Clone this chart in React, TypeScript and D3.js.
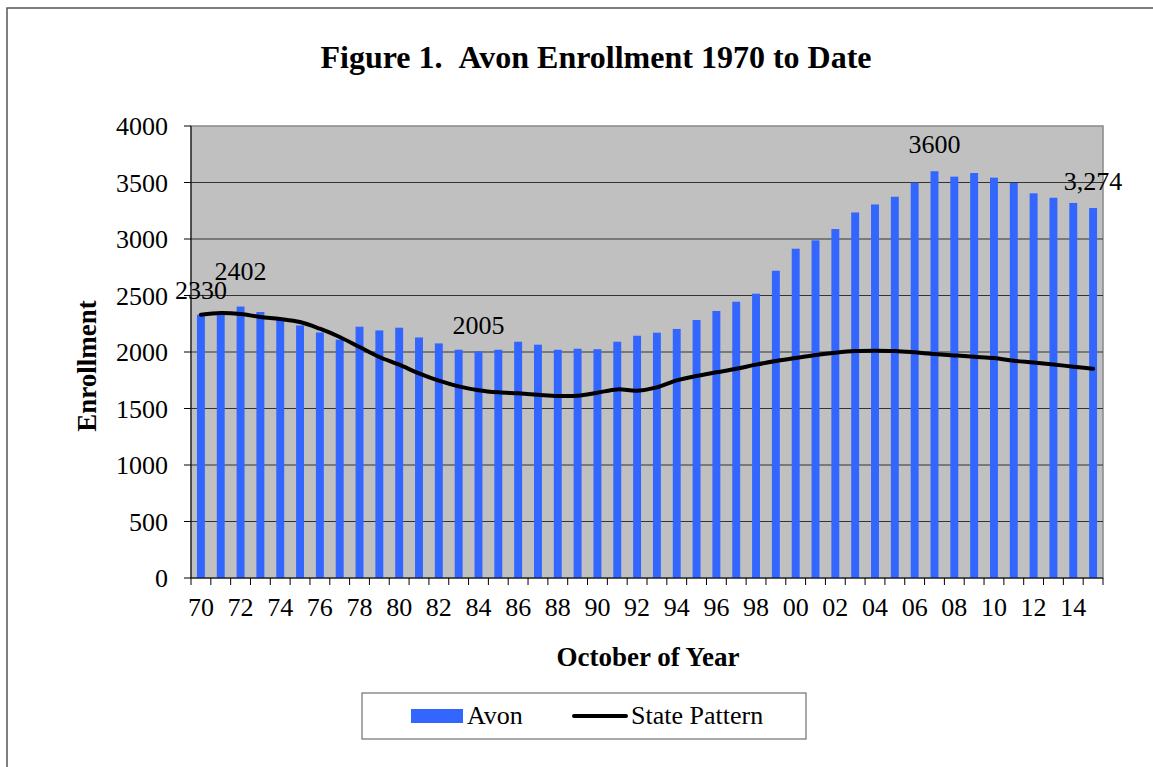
import React from 'react';
import * as d3 from 'd3';

const years = d3.range(1970, 2016);
const avon = [
  2330, 2345, 2402, 2354, 2290, 2235, 2173, 2110, 2224, 2191,
  2215, 2129, 2076, 2020, 2005, 2020, 2091, 2065, 2020, 2029,
  2025, 2091, 2144, 2171, 2204, 2283, 2363, 2445, 2516, 2719,
  2914, 2988, 3088, 3235, 3306, 3374, 3498, 3600, 3552, 3584,
  3543, 3496, 3404, 3365, 3319, 3274,
];
const statePattern = [
  2330, 2345, 2336, 2310, 2292, 2265, 2206, 2133, 2044, 1956,
  1888, 1811, 1746, 1696, 1662, 1643, 1634, 1622, 1611, 1613,
  1640, 1669, 1658, 1687, 1749, 1788, 1820, 1852, 1888, 1920,
  1947, 1973, 1994, 2009, 2012, 2009, 1997, 1982, 1970, 1958,
  1947, 1923, 1908, 1890, 1870, 1852,
];
const yTicks = [0, 500, 1000, 1500, 2000, 2500, 3000, 3500, 4000];
// labelled points: year, text, lift above bar top
const callouts = [
  { year: 1970, text: '2330', lift: 16 },
  { year: 1972, text: '2402', lift: 27 },
  { year: 1984, text: '2005', lift: 17 },
  { year: 2007, text: '3600', lift: 18 },
  { year: 2015, text: '3,274', lift: 18 },
];

const W = 1153;
const H = 767;
const plot = { left: 191, right: 1103, top: 126, bottom: 578 };
const font = '"Liberation Serif", "Times New Roman", serif';

export default function App() {
  const x = d3.scaleBand<number>()
    .domain(years)
    .range([plot.left, plot.right])
    .paddingInner(0.6)
    .paddingOuter(0.3);
  const step = x.step();
  const cx = (yr: number) => (x(yr) as number) + x.bandwidth() / 2;
  const y = d3.scaleLinear().domain([0, 4000]).range([plot.bottom, plot.top]);

  const line = d3.line<number>()
    .x((_, i) => cx(years[i]))
    .y(d => y(d))
    .curve(d3.curveCatmullRom.alpha(0.5));

  const boundaries = d3.range(years.length + 1).map(i => plot.left + i * (plot.right - plot.left) / years.length);

  return (
    <div style={{ position: 'absolute', left: 0, top: 0 }}>
      <svg width={W} height={H} style={{ display: 'block', background: '#fff' }} fontFamily={font}>
        {/* outer frame */}
        <rect x={7} y={8} width={W + 10} height={H + 10} fill="none" stroke="#555" strokeWidth={1.5} />

        <text x={596} y={68} textAnchor="middle" fontSize={32} fontWeight="bold">
          Figure 1.{'\u00a0\u00a0'}Avon Enrollment 1970 to Date
        </text>

        {/* plot area */}
        <rect x={plot.left} y={plot.top} width={plot.right - plot.left} height={plot.bottom - plot.top}
          fill="#c0c0c0" stroke="#888" strokeWidth={1.5} />

        {yTicks.map(t => (
          <g key={t}>
            {t > 0 && t < 4000 && (
              <line x1={plot.left} x2={plot.right} y1={y(t)} y2={y(t)} stroke="#333" strokeWidth={1} />
            )}
            <line x1={plot.left - 7} x2={plot.left} y1={y(t)} y2={y(t)} stroke="#000" strokeWidth={1} />
            <text x={168} y={y(t)} dy="0.35em" textAnchor="end" fontSize={26}>{t}</text>
          </g>
        ))}

        {/* bars */}
        {avon.map((v, i) => (
          <rect key={years[i]} x={x(years[i])} y={y(v)} width={x.bandwidth()} height={y(0) - y(v)}
            fill="#3366ff" />
        ))}

        {/* state pattern */}
        <path d={line(statePattern) ?? ''} fill="none" stroke="#000" strokeWidth={4} strokeLinecap="round" />

        {/* axes */}
        <line x1={plot.left} x2={plot.left} y1={plot.top} y2={plot.bottom} stroke="#000" strokeWidth={1} />
        <line x1={plot.left} x2={plot.right} y1={plot.bottom} y2={plot.bottom} stroke="#000" strokeWidth={1} />
        {boundaries.map((bx, i) => (
          <line key={i} x1={bx} x2={bx} y1={plot.bottom} y2={plot.bottom + 7} stroke="#000" strokeWidth={1} />
        ))}
        {years.map((yr, i) => i % 2 === 0 && (
          <text key={yr} x={plot.left + (i + 0.5) * step} y={607} dy="0.35em" textAnchor="middle" fontSize={26}>
            {String(yr % 100).padStart(2, '0')}
          </text>
        ))}

        {/* callouts */}
        {callouts.map(c => (
          <text key={c.year} x={cx(c.year)} y={y(avon[years.indexOf(c.year)]) - c.lift}
            textAnchor="middle" fontSize={26}>{c.text}</text>
        ))}

        <text x={648} y={666} textAnchor="middle" fontSize={27} fontWeight="bold">October of Year</text>
        <text transform="translate(96, 366) rotate(-90)" textAnchor="middle"
          fontSize={27} fontWeight="bold">Enrollment</text>

        {/* legend */}
        <rect x={362} y={693} width={444} height={46} fill="#fff" stroke="#555" strokeWidth={1} />
        <rect x={411} y={709} width={52} height={14} fill="#3366ff" />
        <text x={467} y={724} fontSize={26}>Avon</text>
        <line x1={574} x2={626} y1={716} y2={716} stroke="#000" strokeWidth={4} strokeLinecap="round" />
        <text x={631} y={724} fontSize={26}>State Pattern</text>
      </svg>
    </div>
  );
}
